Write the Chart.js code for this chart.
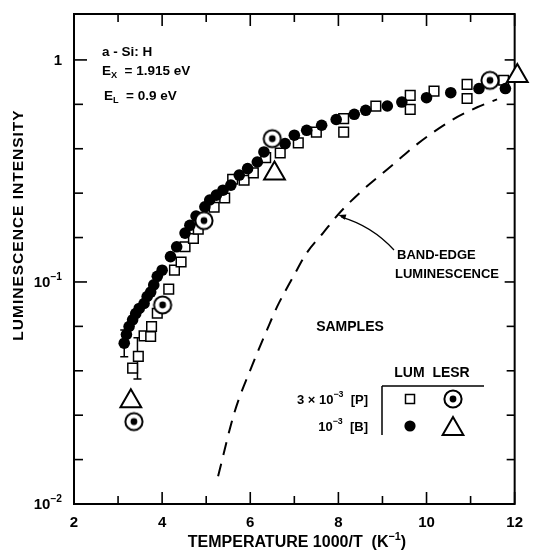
<!DOCTYPE html>
<html><head><meta charset="utf-8">
<script src="https://cdn.jsdelivr.net/npm/chart.js@4"></script>
<style>html,body{margin:0;padding:0;background:#fff;}</style>
</head><body>
<canvas id="c" width="533" height="552" style="display:block;width:533px;height:552px"></canvas>
<script>
// ---- data ----
// LUM, 10^-3 [B] (filled circles)
const lumBx = [3.14,3.19,3.25,3.33,3.40,3.48,3.59,3.66,3.74,3.81,3.89,4.00,4.19,4.33,4.52,4.63,4.77,4.97,5.08,5.23,5.38,5.56,5.75,5.94,6.16,6.31,6.79,7.00,7.28,7.62,7.95,8.36,8.62,9.11,9.44,10.00,10.55,11.19,11.79];
const lumBy = [0.053,0.058,0.063,0.0675,0.072,0.076,0.080,0.086,0.090,0.097,0.106,0.113,0.130,0.144,0.166,0.180,0.198,0.218,0.234,0.246,0.259,0.273,0.303,0.324,0.347,0.385,0.420,0.458,0.482,0.508,0.539,0.569,0.593,0.620,0.646,0.676,0.712,0.743,0.743];
// LUM, 3x10^-3 [P] (open squares)
const lumPx = [3.33,3.46,3.59,3.74,3.76,3.89,4.15,4.28,4.43,4.52,4.71,4.82,5.18,5.42,5.60,5.86,6.07,6.35,6.68,7.09,7.50,8.12,8.12,8.85,9.63,9.63,10.17,10.92,10.92,11.75];
const lumPy = [0.0409,0.0462,0.0572,0.0568,0.063,0.0723,0.0928,0.113,0.123,0.144,0.157,0.173,0.217,0.239,0.290,0.287,0.310,0.363,0.381,0.423,0.473,0.544,0.473,0.619,0.692,0.599,0.724,0.776,0.670,0.810];
// LESR, 3x10^-3 [P] (circled dots)
const lesrPx = [3.36,4.01,4.95,6.50,11.44];
const lesrPy = [0.0235,0.0788,0.189,0.442,0.809];
// LESR, 10^-3 [B] (open triangles)
const lesrBx = [3.29,6.55,12.06];
const lesrBy = [0.029,0.308,0.847];
// band-edge luminescence (dashed curve)
const bandX = [5.27,5.64,6.05,6.38,6.61,6.98,7.28,7.65,8.02,8.55,9.14,9.81,10.57,11.15,11.60];
const bandY = [0.01334,0.0258,0.0424,0.0608,0.0774,0.106,0.135,0.166,0.204,0.259,0.325,0.421,0.535,0.612,0.664];
// error bars
const errX = [3.14,3.44];
const errLo = [0.046,0.0366];
const errHi = [0.0608,0.056];
// axis ticks
const xTicks = [2,3,4,5,6,7,8,9,10,11,12];
const yLabelVals = [0.01,0.1,1];
const yLabelExp = ['-2','-1',''];

const FONT = '"Liberation Sans", Arial, sans-serif';
const pts = (xs, ys) => xs.map((x,i)=>({x, y: ys[i]}));

// circled-dot marker
function circledDot(r, lw, dot){
  const s = Math.ceil(2*(r+lw)+2), c = document.createElement('canvas');
  c.width = s; c.height = s;
  const g = c.getContext('2d');
  g.beginPath(); g.arc(s/2, s/2, r, 0, Math.PI*2); g.fillStyle='#fff'; g.fill();
  g.lineWidth = lw; g.strokeStyle='#000'; g.stroke();
  g.beginPath(); g.arc(s/2, s/2, dot, 0, Math.PI*2); g.fillStyle='#000'; g.fill();
  return c;
}
const cdImg = circledDot(8.6, 2, 3.4);

function rich(ctx, parts, x, y, align, size, spacing){
  const f = (sz)=>'bold '+sz+'px '+FONT;
  ctx.letterSpacing = (spacing||0)+'px';
  let w = 0;
  parts.forEach(p=>{ ctx.font = f(p[1] ? size*0.68 : size); w += ctx.measureText(p[0]).width; });
  let cx = align==='right' ? x-w : align==='center' ? x-w/2 : x;
  ctx.textAlign='left'; ctx.textBaseline='middle'; ctx.fillStyle='#000';
  parts.forEach(p=>{
    const sz = p[1] ? size*0.68 : size;
    ctx.font = f(sz);
    const dy = p[1]===1 ? -size*0.38 : p[1]===2 ? size*0.35 : 0;
    ctx.fillText(p[0], cx, y+dy);
    cx += ctx.measureText(p[0]).width;
  });
  ctx.letterSpacing = '0px';
}

const deco = {
  id:'deco',
  beforeDatasetsDraw(chart){
    const {ctx, chartArea:a, scales:{x, y}} = chart;
    ctx.save();
    ctx.strokeStyle='#000'; ctx.lineWidth=2;
    ctx.strokeRect(a.left, a.top, a.right-a.left, a.bottom-a.top);
    ctx.lineWidth=1.6;
    xTicks.forEach(v=>{
      const px = x.getPixelForValue(v), L = (v%2===0) ? 12 : 8;
      ctx.beginPath(); ctx.moveTo(px, a.bottom); ctx.lineTo(px, a.bottom-L); ctx.stroke();
      ctx.beginPath(); ctx.moveTo(px, a.top); ctx.lineTo(px, a.top+L); ctx.stroke();
    });
    for(let k=0;k<=10;k++){
      const v = Math.pow(10, -2+0.2*k), py = y.getPixelForValue(v);
      const major = k%5===0;
      ctx.beginPath(); ctx.moveTo(a.left, py); ctx.lineTo(a.left+(major?13:9), py); ctx.stroke();
      ctx.beginPath(); ctx.moveTo(a.right, py); ctx.lineTo(a.right-(major?10:8), py); ctx.stroke();
    }
    yLabelVals.forEach((v,i)=>{
      const py = y.getPixelForValue(v);
      const parts = yLabelExp[i] ? [['10',0],['\u2212'+yLabelExp[i].slice(1),1]] : [['1',0]];
      rich(ctx, parts, a.left-12, py+1, 'right', 15);
    });
    ctx.lineWidth=1.5;
    errX.forEach((v,i)=>{
      const px = x.getPixelForValue(v), p1 = y.getPixelForValue(errLo[i]), p2 = y.getPixelForValue(errHi[i]);
      ctx.beginPath(); ctx.moveTo(px,p1); ctx.lineTo(px,p2);
      ctx.moveTo(px-4,p1); ctx.lineTo(px+4,p1); ctx.moveTo(px-4,p2); ctx.lineTo(px+4,p2); ctx.stroke();
    });
    ctx.restore();
  },
  afterDraw(chart){
    const {ctx, scales:{x, y}} = chart;
    ctx.save();
    rich(ctx, [['TEMPERATURE 1000/T  (K',0],['\u22121',1],[')',0]], 297, 543, 'center', 16);
    ctx.save(); ctx.translate(19, 225); ctx.rotate(-Math.PI/2);
    rich(ctx, [['LUMINESCENCE INTENSITY',0]], 0, 0, 'center', 15.5, 1);
    ctx.restore();
    rich(ctx, [['a - Si: H',0]], 102, 52, 'left', 13.5);
    rich(ctx, [['E',0],['X',2],['  = 1.915 eV',0]], 102, 71, 'left', 13.5);
    rich(ctx, [['E',0],['L',2],['  = 0.9 eV',0]], 104, 96, 'left', 13.5);
    rich(ctx, [['BAND-EDGE',0]], 397, 255, 'left', 13);
    rich(ctx, [['LUMINESCENCE',0]], 395, 274, 'left', 13);
    const tx = x.getPixelForValue(8.0), ty = y.getPixelForValue(0.2);
    ctx.strokeStyle='#000'; ctx.fillStyle='#000'; ctx.lineWidth=1.3;
    ctx.beginPath(); ctx.moveTo(394, 250); ctx.quadraticCurveTo(372, 226, tx+3, ty+2); ctx.stroke();
    const ang = Math.atan2(ty+2-226, tx+3-372);
    ctx.beginPath(); ctx.moveTo(tx, ty);
    ctx.lineTo(tx - 8*Math.cos(ang-0.35), ty - 8*Math.sin(ang-0.35));
    ctx.lineTo(tx - 8*Math.cos(ang+0.35), ty - 8*Math.sin(ang+0.35));
    ctx.closePath(); ctx.fill();
    rich(ctx, [['SAMPLES',0]], 350, 327, 'center', 14);
    rich(ctx, [['LUM  LESR',0]], 432, 373, 'center', 14);
    ctx.lineWidth=1.5;
    ctx.beginPath(); ctx.moveTo(382, 386); ctx.lineTo(484, 386); ctx.moveTo(382, 386); ctx.lineTo(382, 435); ctx.stroke();
    rich(ctx, [['3 \u00d7 10',0],['\u22123',1],['  [P]',0]], 368, 400, 'right', 13);
    rich(ctx, [['10',0],['\u22123',1],['  [B]',0]], 368, 427, 'right', 13);
    ctx.lineWidth=1.5; ctx.strokeStyle='#000'; ctx.fillStyle='#fff';
    ctx.fillRect(405.5,394.5,9,9); ctx.strokeRect(405.5,394.5,9,9);
    ctx.drawImage(cdImg, 453-cdImg.width/2, 399-cdImg.height/2);
    ctx.fillStyle='#000'; ctx.beginPath(); ctx.arc(410,426,5.6,0,Math.PI*2); ctx.fill();
    ctx.lineWidth=2; ctx.fillStyle='#fff';
    const R=12, cx=453, cy=429;
    ctx.beginPath(); ctx.moveTo(cx, cy-R);
    ctx.lineTo(cx+R*Math.sin(2*Math.PI/3), cy-R*Math.cos(2*Math.PI/3));
    ctx.lineTo(cx+R*Math.sin(4*Math.PI/3), cy-R*Math.cos(4*Math.PI/3));
    ctx.closePath(); ctx.fill(); ctx.stroke();
    ctx.restore();
  }
};

new Chart(document.getElementById('c'), {
  type:'scatter',
  data:{ datasets:[
    { label:'LESR [P]', data: pts(lesrPx, lesrPy), pointStyle: cdImg, pointRadius:9, order:0, clip:false },
    { label:'LESR [B]', data: pts(lesrBx, lesrBy), pointStyle:'triangle', pointRadius:12, pointBorderWidth:2,
      pointBackgroundColor:'#fff', pointBorderColor:'#000', order:0, clip:false },
    { label:'LUM [B]', data: pts(lumBx, lumBy), pointStyle:'circle', pointRadius:5.8, pointBorderWidth:0,
      pointBackgroundColor:'#000', pointBorderColor:'#000', order:1 },
    { label:'LUM [P]', data: pts(lumPx, lumPy), pointStyle:'rect', pointRadius:6.8, pointBorderWidth:1.5,
      pointBackgroundColor:'#fff', pointBorderColor:'#000', order:2 },
    { label:'Band-edge', data: pts(bandX, bandY), showLine:true, pointRadius:0, borderColor:'#000',
      borderWidth:2, borderDash:[13,9], tension:0.4, cubicInterpolationMode:'monotone', order:3 }
  ]},
  options:{
    responsive:false, animation:false, devicePixelRatio:1, events:[],
    layout:{ padding:{ left:0, top:13, right:12, bottom:0 } },
    plugins:{ legend:{display:false}, tooltip:{enabled:false} },
    scales:{
      x:{ type:'linear', min:2, max:12, afterFit:s=>{ s.height = 48; },
          grid:{display:false, drawTicks:false}, border:{display:false},
          ticks:{ stepSize:2, padding:10, color:'#000', maxRotation:0, autoSkip:false,
                  font:{family:FONT, weight:'bold', size:15} } },
      y:{ type:'logarithmic', min:0.01, max:1.61, afterFit:s=>{ s.width = 74; },
          grid:{display:false, drawTicks:false}, border:{display:false}, ticks:{display:false} }
    }
  },
  plugins:[deco]
});
</script>
</body></html>
